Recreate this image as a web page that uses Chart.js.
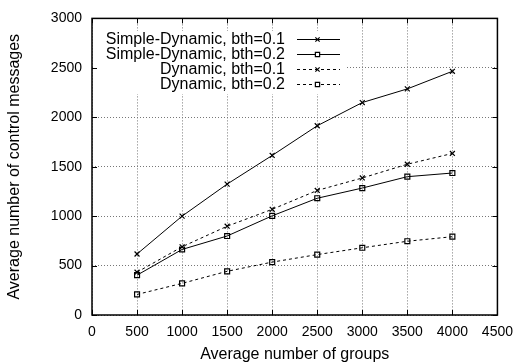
<!DOCTYPE html>
<html>
<head>
<meta charset="utf-8">
<script src="https://cdn.jsdelivr.net/npm/chart.js@4/dist/chart.umd.min.js"></script>
<style>
  html, body { margin: 0; padding: 0; background: #fff; }
  #wrap { width: 522px; height: 364px; }
</style>
</head>
<body>
<div id="wrap"><canvas id="chart"></canvas></div>
<script>
// values
const groups = [500, 1000, 1500, 2000, 2500, 3000, 3500, 4000];
const simpleDyn01 = [617, 1000, 1324, 1614, 1914, 2149, 2287, 2465];
const simpleDyn02 = [403, 663, 799, 1003, 1181, 1284, 1399, 1436];
const dyn01 = [433, 690, 898, 1069, 1260, 1386, 1525, 1634];
const dyn02 = [208, 320, 442, 535, 611, 680, 746, 792];

const labels = ["Simple-Dynamic, bth=0.1", "Simple-Dynamic, bth=0.2", "Dynamic, bth=0.1", "Dynamic, bth=0.2"];
const xTicks = [0, 500, 1000, 1500, 2000, 2500, 3000, 3500, 4000, 4500];
const yTicks = [0, 500, 1000, 1500, 2000, 2500, 3000];

const FONT = "'Liberation Sans', Arial, sans-serif";

function series(label, values, dashed, marker) {
    return {
        label: label,
        data: groups.map((g, i) => ({x: g, y: values[i]})),
        borderColor: '#000',
        borderWidth: 1,
        borderDash: dashed ? [3, 3] : [],
        pointStyle: marker,
        pointRadius: 3.5,
        pointBorderColor: '#000',
        pointBackgroundColor: 'rgba(0,0,0,0)',
        pointBorderWidth: 1.2,
        fill: false,
        tension: 0
    };
}

// gnuplot style key: text right aligned, sample to its right, white box under it
const keyPlugin = {
    id: 'key',
    afterDatasetsDraw(chart) {
        const ctx = chart.ctx;
        const area = chart.chartArea;
        ctx.save();
        ctx.fillStyle = '#fff';
        ctx.fillRect(area.left + 1, 31, 253, 63);
        ctx.font = '16px ' + FONT;
        ctx.textAlign = 'right';
        ctx.textBaseline = 'middle';
        chart.data.datasets.forEach((ds, i) => {
            const y = 39 + i * 15;
            ctx.fillStyle = '#000';
            ctx.fillText(ds.label, 285, y + 1);
            ctx.strokeStyle = '#000';
            ctx.lineWidth = 1;
            ctx.setLineDash(ds.borderDash);
            ctx.beginPath();
            ctx.moveTo(297, y + 0.5);
            ctx.lineTo(340, y + 0.5);
            ctx.stroke();
            ctx.setLineDash([]);
            ctx.fillStyle = '#fff';
            ctx.lineWidth = 1.2;
            Chart.helpers.drawPoint(ctx, {pointStyle: ds.pointStyle, radius: 3, rotation: 0, borderWidth: 1.2}, 317.5, y + 0.5);
        });
        ctx.restore();
    },
    afterDraw(chart) {
        const ctx = chart.ctx;
        const a = chart.chartArea;
        const xs = chart.scales.x, ys = chart.scales.y;
        ctx.save();
        ctx.strokeStyle = '#000';
        ctx.lineWidth = 1;
        ctx.beginPath();
        const len = 5;
        xTicks.forEach(v => {
            const px = Math.round(xs.getPixelForValue(v)) + 0.5;
            ctx.moveTo(px, a.bottom); ctx.lineTo(px, a.bottom - len);
            ctx.moveTo(px, a.top); ctx.lineTo(px, a.top + len);
        });
        yTicks.forEach(v => {
            const py = Math.round(ys.getPixelForValue(v)) + 0.5;
            ctx.moveTo(a.left, py); ctx.lineTo(a.left + len, py);
            ctx.moveTo(a.right, py); ctx.lineTo(a.right - len, py);
        });
        ctx.stroke();
        ctx.lineWidth = 1.5;
        ctx.strokeRect(a.left, a.top, a.right - a.left, a.bottom - a.top);
        ctx.restore();
    }
};

new Chart(document.getElementById('chart'), {
    type: 'line',
    data: {
        datasets: [
            series(labels[0], simpleDyn01, false, 'crossRot'),
            series(labels[1], simpleDyn02, false, 'rect'),
            series(labels[2], dyn01, true, 'crossRot'),
            series(labels[3], dyn02, true, 'rect')
        ]
    },
    options: {
        responsive: true,
        maintainAspectRatio: false,
        animation: false,
        layout: { padding: { top: 14, right: 21, left: 0, bottom: 0 } },
        plugins: {
            legend: { display: false },
            tooltip: { enabled: false }
        },
        scales: {
            x: {
                type: 'linear',
                min: 0,
                max: 4500,
                afterBuildTicks: s => { s.ticks = xTicks.map(v => ({value: v})); },
                afterFit: s => { s.height = 49; },
                grid: { color: '#777', drawTicks: false, lineWidth: 1 },
                border: { display: false, dash: [1, 2] },
                ticks: { color: '#000', font: { family: FONT, size: 14 }, padding: 9, maxRotation: 0, callback: v => String(v) },
                title: { display: true, text: 'Average number of groups', color: '#000', font: { family: FONT, size: 16 }, padding: { top: 1, bottom: 0 } }
            },
            y: {
                type: 'linear',
                min: 0,
                max: 3000,
                afterBuildTicks: s => { s.ticks = yTicks.map(v => ({value: v})); },
                afterFit: s => { s.width = 92; },
                grid: { color: '#777', drawTicks: false, lineWidth: 1 },
                border: { display: false, dash: [1, 2] },
                ticks: { color: '#000', font: { family: FONT, size: 14 }, padding: 10, callback: v => String(v) },
                title: { display: true, text: 'Average number of control messages', color: '#000', font: { family: FONT, size: 16 }, padding: { top: 5, bottom: 0 } }
            }
        }
    },
    plugins: [keyPlugin]
});
</script>
</body>
</html>
